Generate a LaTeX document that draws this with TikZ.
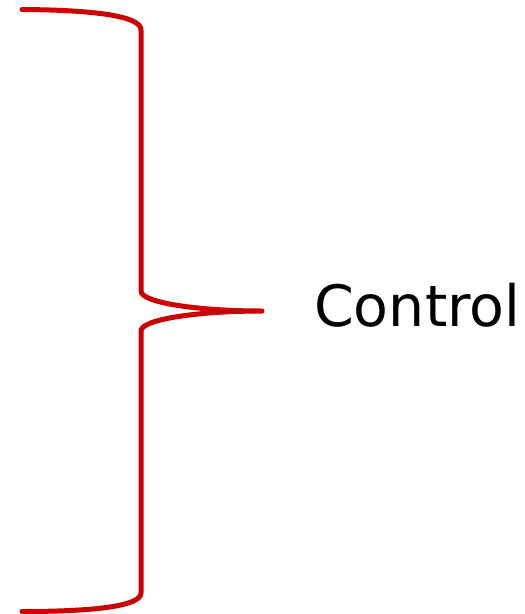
\documentclass[tikz,border=0pt]{standalone}
\usepackage{fontspec}
\setmainfont{DejaVu Sans}
\definecolor{bracered}{RGB}{204,0,0}

\begin{document}
\begin{tikzpicture}[x=1pt,y=-1pt]
            \tikzset{brace/.style = {draw=bracered, line width=5pt, line cap=round, line join=round}}
            \tikzset{label/.style = {inner sep=0pt, anchor=base west, font=\fontsize{57}{60}\selectfont}}
            \useasboundingbox (0,0) rectangle (525,614);
            % points
            \coordinate (top) at (22,9.5);
            \coordinate (tip) at (262,311);
            \coordinate (bottom) at (22,611.5);
            % text
            \node[label] (control) at (314,326) {Control};
            % brace
            \draw[brace] (top) .. controls (95,10) and (141,16) .. (141,30)
                -- (141,291) .. controls (141,303) and (200,311) .. (tip)
                .. controls (200,311) and (141,319) .. (141,331)
                -- (141,593) .. controls (141,606) and (95,611.5) .. (bottom);
        \end{tikzpicture}
\end{document}
